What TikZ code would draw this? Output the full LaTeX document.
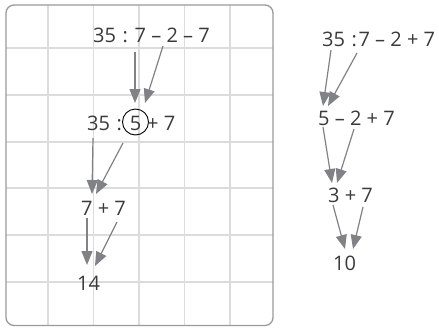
\documentclass[tikz,border=0pt]{standalone}
\usepackage{fontspec}
\setmainfont{Open Sans}
\usetikzlibrary{arrows.meta}
\definecolor{gridc}{HTML}{DCDCDC}
\definecolor{framec}{HTML}{9A9A9A}
\definecolor{arrc}{HTML}{808285}
\definecolor{txtc}{HTML}{3A3A3A}
\tikzset{
  expr/.style={anchor=base west, inner sep=0pt, font=\fontsize{20}{24}\selectfont, text=txtc},
  arr/.style={draw=arrc, line width=1.2pt, -{Triangle[length=14pt,width=11pt]}},
  gridline/.style={draw=gridc, line width=1.2pt},
  frame/.style={draw=framec, line width=1.3pt, rounded corners=8pt},
}
\begin{document}
\begin{tikzpicture}[x=1pt,y=-1pt]
\useasboundingbox (0,0) rectangle (439,327);
% grid
\begin{scope}
\clip[rounded corners=8pt] (6,5) rectangle (273,325.5);
\foreach \gx in {48,93.5,139,184.5,230} \draw[gridline] (\gx,0) -- (\gx,327);
\foreach \gy in {48,95,142,188,235,282} \draw[gridline] (0,\gy) -- (273,\gy);
\end{scope}
\draw[frame] (6,5) rectangle (273,325.5);
% left texts
\node[expr] (l1) at (93,42) {35\,\,:\,\,7 – 2 – 7};
\node[expr] (l2a) at (87,130) {35\,\,:};
\node[circle, draw=black, line width=0.9pt, minimum size=26pt, inner sep=0pt] (five) at (135.5,122) {};
\node[expr, anchor=base] (l2five) at (135.5,130) {5};
\node[expr] (l2b) at (147,130) {+ 7};
\node[expr] (l3) at (81,215) {7 + 7};
\node[expr] (l4) at (77,290) {14};
% right texts
\node[expr] (r1) at (322,46) {35\,\,:\hspace{1.5pt}7 – 2 + 7};
\node[expr] (r2) at (318,125) {5 – 2 + 7};
\node[expr] (r3) at (328,202) {3 + 7};
\node[expr] (r4) at (333,270) {10};
% arrow coordinates left
\coordinate (a1s) at (135,52);  \coordinate (a1e) at (135,103);
\coordinate (a2s) at (163,46);  \coordinate (a2e) at (145,103);
\coordinate (a3s) at (93,138);  \coordinate (a3e) at (92,194);
\coordinate (a4s) at (123,143); \coordinate (a4e) at (96,194);
\coordinate (a5s) at (87,218);  \coordinate (a5e) at (87,265);
\coordinate (a6s) at (117,222); \coordinate (a6e) at (95,266);
% arrow coordinates right
\coordinate (b1s) at (331,50);  \coordinate (b1e) at (323,106);
\coordinate (b2s) at (357,53);  \coordinate (b2e) at (328,106);
\coordinate (b3s) at (323,127); \coordinate (b3e) at (332,183);
\coordinate (b4s) at (354,129); \coordinate (b4e) at (337,183);
\coordinate (b5s) at (333,205); \coordinate (b5e) at (345,249);
\coordinate (b6s) at (363,207); \coordinate (b6e) at (353,249);
\foreach \p in {a1,a2,a3,a4,a5,a6,b1,b2,b3,b4,b5,b6}
  \draw[arr] (\p s) -- (\p e);
\end{tikzpicture}
\end{document}
